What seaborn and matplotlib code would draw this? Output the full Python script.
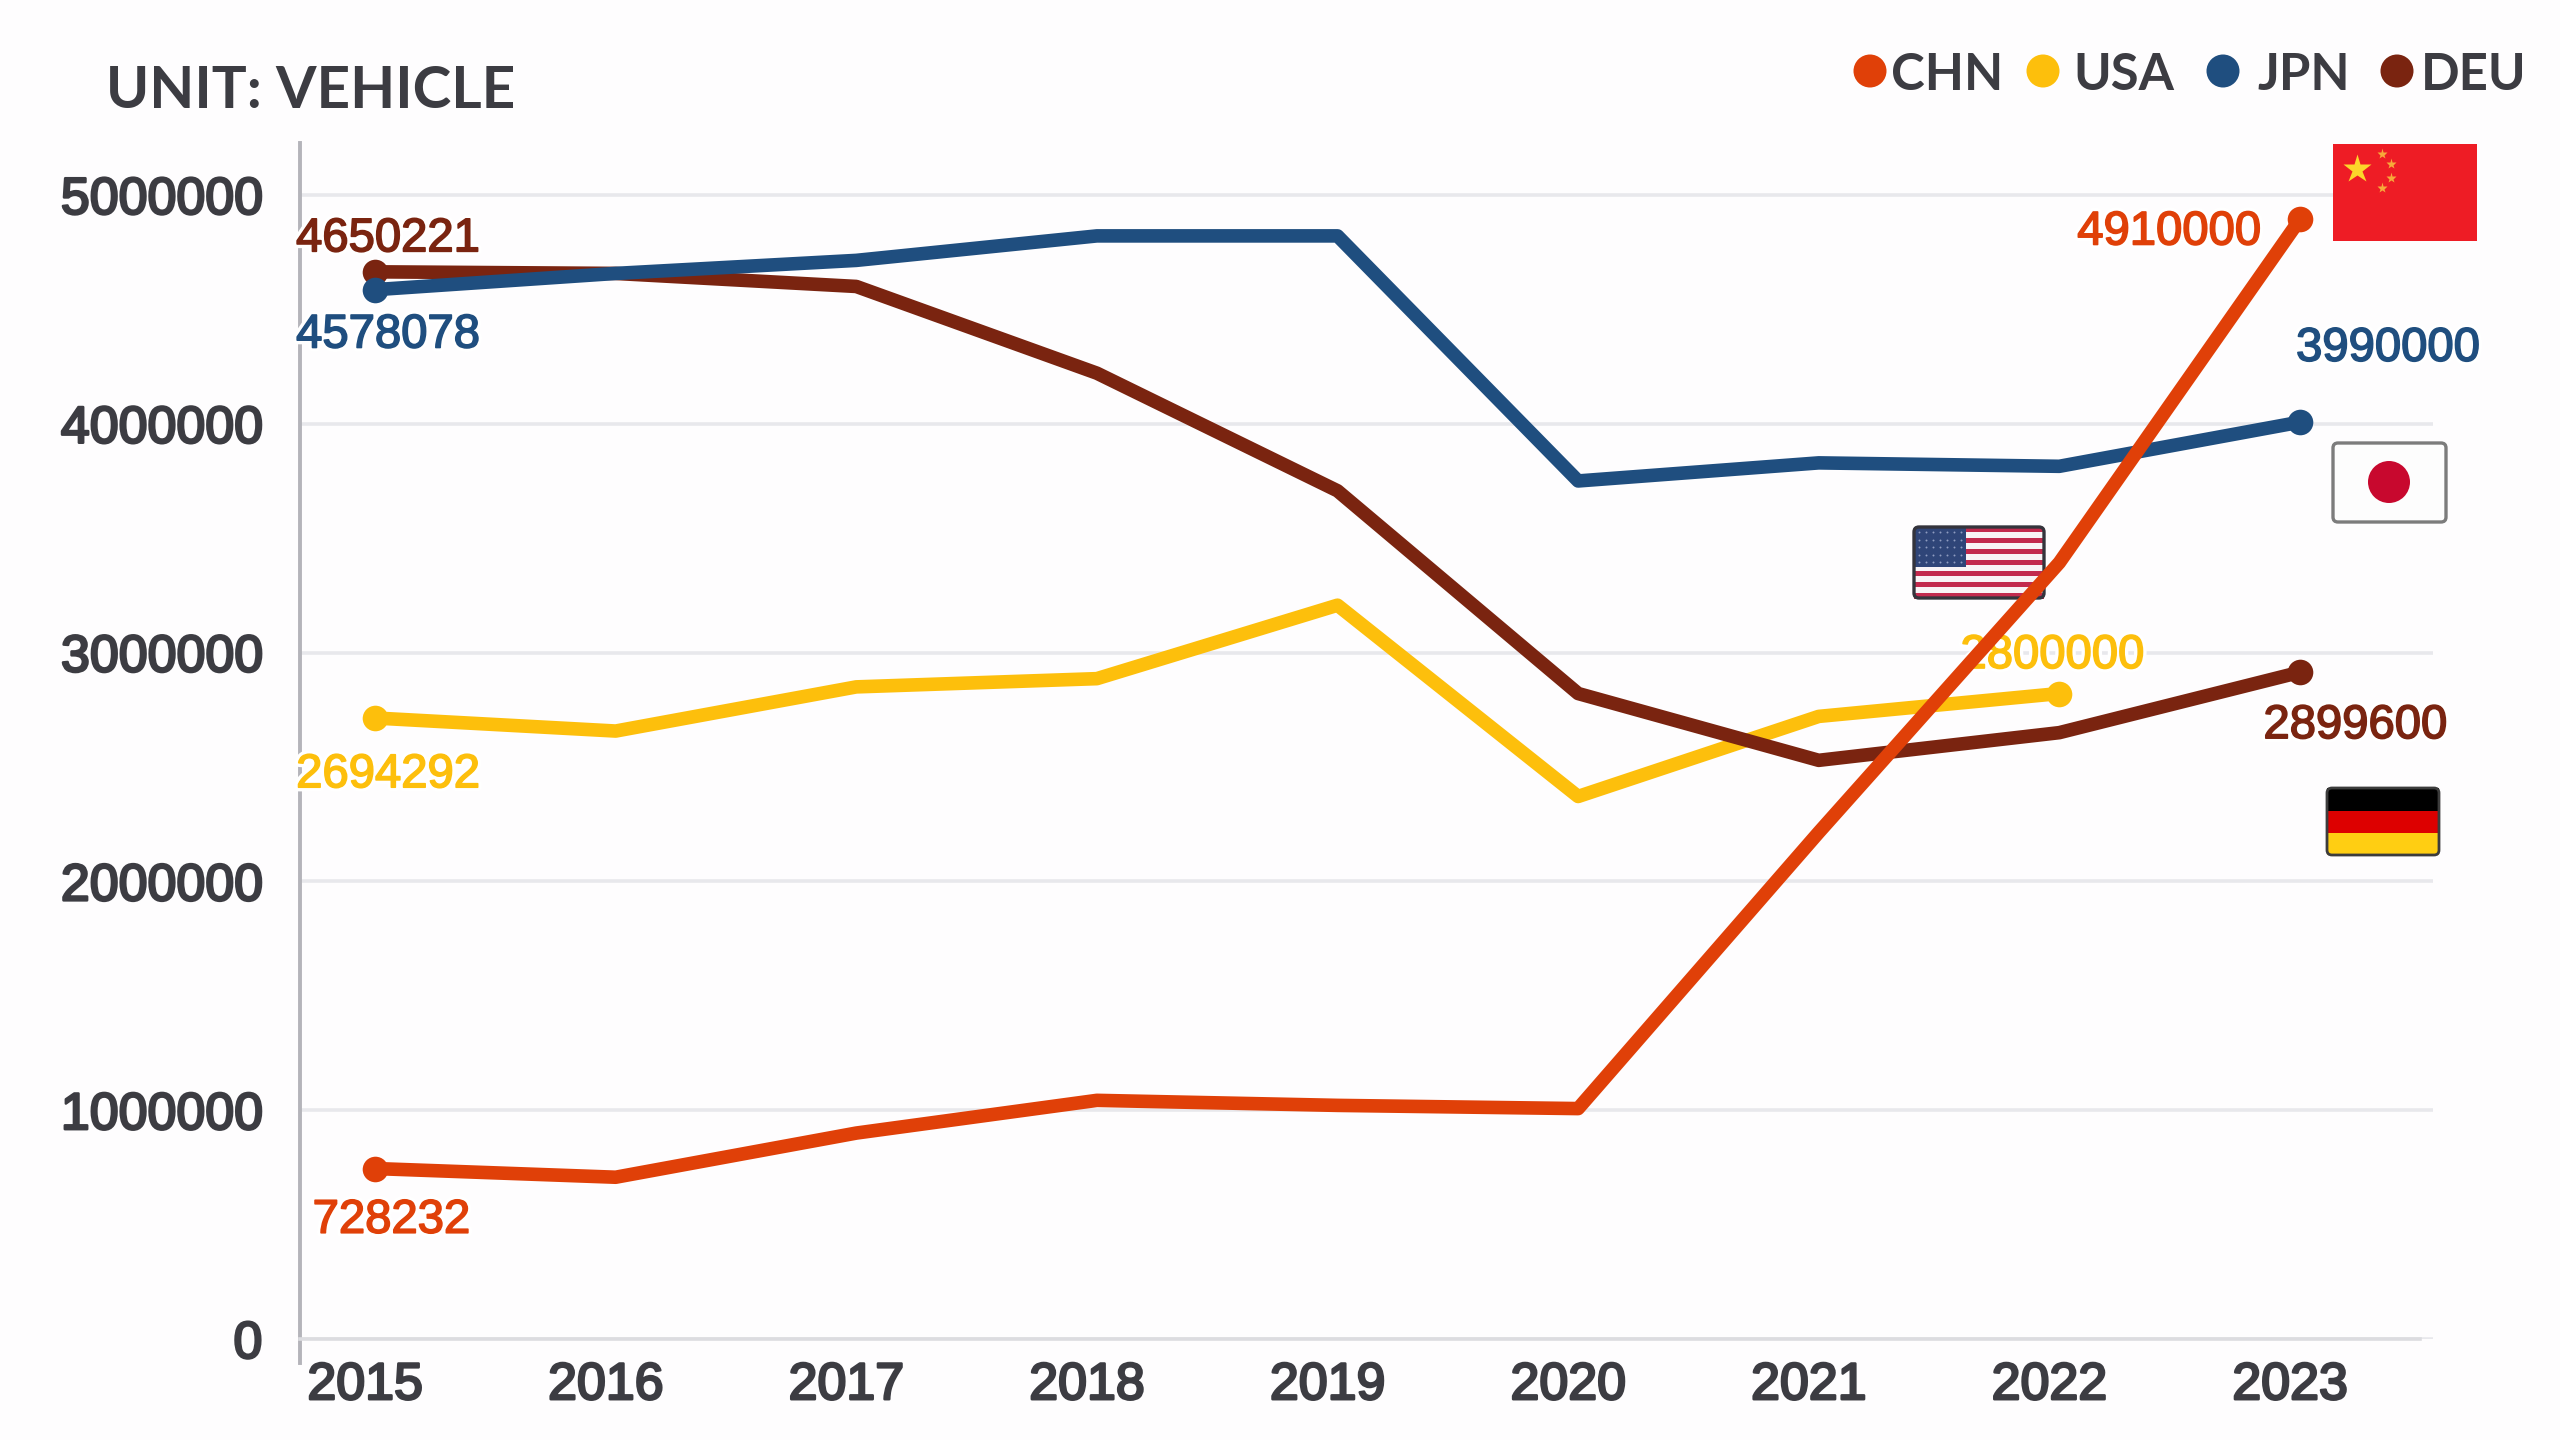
"""Vehicle exports by country, 2015-2023: line chart with flags and end labels."""

import matplotlib.patheffects as pe
import matplotlib.pyplot as plt
import pandas as pd
import seaborn as sns
from matplotlib.patches import Circle, FancyBboxPatch, Rectangle
from matplotlib.transforms import Affine2D, ScaledTranslation

years = [2015, 2016, 2017, 2018, 2019, 2020, 2021, 2022, 2023]
chn = [745000, 707000, 900000, 1043000, 1021000, 1007000, 2214000, 3393000, 4893000]
usa = [2714000, 2657000, 2850000, 2886000, 3207000, 2371000, 2721000, 2821000]
jpn = [4586000, 4657000, 4714000, 4821000, 4821000, 3750000, 3829000, 3814000, 4007000]
deu = [4664000, 4657000, 4600000, 4221000, 3707000, 2821000, 2529000, 2650000, 2914000]

y_ticks = [0, 1000000, 2000000, 3000000, 4000000, 5000000]
start_text = {"DEU": "4650221", "JPN": "4578078", "USA": "2694292", "CHN": "728232"}
end_text = {"CHN": "4910000", "JPN": "3990000", "USA": "2800000", "DEU": "2899600"}

colors = {"CHN": "#e04008", "USA": "#fdbf0c", "JPN": "#1f4e7f", "DEU": "#7a2410"}
draw_order = ["USA", "DEU", "JPN", "CHN"]
INK = "#3c3c42"
GRID = "#e8e8ec"

# label offsets in points from the line's end marker
start_offset = {"DEU": (4.7, 11.7), "JPN": (4.7, -16.5), "USA": (4.7, -20.6), "CHN": (5.9, -18.8)}
end_offset = {"CHN": (-47, -4.7), "JPN": (31.8, 26.4), "USA": (-2.4, 13.5), "DEU": (20, -19.4)}

# legend: marker centre and text start, in pixels
legend_x = {"CHN": (1870, 1891), "USA": (2043, 2073), "JPN": (2223, 2257), "DEU": (2397, 2421)}

sns.set_theme(style="whitegrid")
plt.rcParams["font.family"] = ["Liberation Sans", "DejaVu Sans"]

fig = plt.figure(figsize=(12.8, 7.2), dpi=200, facecolor="#fefdfe")
ax = fig.add_axes([300 / 2560, 1 - 1339 / 1440, (2433 - 300) / 2560, (1339 - 143) / 1440])
ax.set_facecolor("none")

# everything that is not data is placed in image pixels, origin top left
px = Affine2D().scale(1, -1).translate(0, 1440)

df = pd.concat(
    pd.DataFrame({"year": years[: len(vals)], "value": vals, "country": name})
    for name, vals in [("CHN", chn), ("USA", usa), ("JPN", jpn), ("DEU", deu)]
)

sns.lineplot(
    data=df, x="year", y="value", hue="country", hue_order=draw_order, palette=colors,
    linewidth=4.9, errorbar=None, legend=False, zorder=2, ax=ax,
    solid_joinstyle="round", solid_capstyle="round",
)

ends = df.groupby("country").agg(
    x0=("year", "first"), y0=("value", "first"), x1=("year", "last"), y1=("value", "last")
)
for name in draw_order:
    row = ends.loc[name]
    sns.scatterplot(
        x=[row.x0, row.x1], y=[row.y0, row.y1], color=colors[name], s=85,
        linewidth=0, legend=False, zorder=2.1, ax=ax,
    )
    for xy, text, off in [
        ((row.x0, row.y0), start_text[name], start_offset[name]),
        ((row.x1, row.y1), end_text[name], end_offset[name]),
    ]:
        # the USA end label sits under the lines, the orange one crosses it
        ax.annotate(
            text, xy=xy, xytext=off, textcoords="offset points", ha="center", va="center",
            color=colors[name], fontsize=17, annotation_clip=False,
            zorder=1.8 if text == end_text["USA"] else 3,
            path_effects=[
                pe.withStroke(linewidth=3, foreground="white"),
                pe.withStroke(linewidth=0.6, foreground=colors[name]),
            ],
        )

ax.set_xlim(2014.688, 2023.553)
ax.set_ylim(0, 5227000)
ax.set_xticks(years)
ax.set_yticks(y_ticks)
ax.set_yticklabels([str(v) for v in y_ticks])
ax.set_xlabel("")
ax.set_ylabel("")
ax.grid(False, axis="x")
ax.grid(True, axis="y", color=GRID, linewidth=1.3, zorder=1)
ax.set_axisbelow(True)
ax.tick_params(axis="y", length=10.4, width=1.3, color=GRID, pad=3.2, labelsize=18.7, labelcolor=INK)
ax.tick_params(axis="x", length=0, pad=8, labelsize=18.7, labelcolor=INK)
shift = ScaledTranslation(-10 / 200, 0, fig.dpi_scale_trans)
for label in ax.get_xticklabels():
    label.set_transform(label.get_transform() + shift)
# regular weight plus a thin outline reads as the semibold of the original
for label in ax.get_xticklabels() + ax.get_yticklabels():
    label.set_path_effects([pe.withStroke(linewidth=0.9, foreground=INK)])

for side in ["top", "right"]:
    ax.spines[side].set_visible(False)
ax.spines["bottom"].set_color("#dcdce0")
ax.spines["bottom"].set_linewidth(1.3)
ax.spines["bottom"].set_bounds(2014.688, 2023.5)
ax.spines["left"].set_color("#b4b4ba")
ax.spines["left"].set_linewidth(1.4)
ax.spines["left"].set_bounds(-105000, 5227000)

# title and hand-placed legend
ax.text(106, 91, "UNIT: VEHICLE", transform=px, family="Lato", fontweight="bold", fontsize=21,
        color=INK, va="center", clip_on=False)
for name, (mark_x, text_x) in legend_x.items():
    ax.add_patch(Circle((mark_x, 71), 16.5, color=colors[name], lw=0, transform=px, clip_on=False))
    ax.text(text_x, 76, name, transform=px, family="Lato", fontweight="bold", fontsize=18.3,
            color=INK, va="center", clip_on=False)


def box(x0, y0, x1, y1, color, z=1.5):
    ax.add_patch(Rectangle((x0, y0), x1 - x0, y1 - y0, facecolor=color, lw=0, transform=px,
                           clip_on=False, zorder=z))


def frame(x0, y0, x1, y1, color, lw):
    ax.add_patch(FancyBboxPatch((x0, y0), x1 - x0, y1 - y0, boxstyle="round,pad=0,rounding_size=5",
                                facecolor="none", edgecolor=color, lw=lw, transform=px,
                                clip_on=False, zorder=1.6))


def star(x, y, size, color="#fcd62a"):
    ax.plot(x, y, marker="*", ms=size, mfc=color, mec="none", transform=px, clip_on=False, zorder=1.6)


# China
box(2333, 144, 2477, 241, "#ee1c25")
star(2357, 169, 10.5)
for sx, sy in [(2382, 154), (2391, 164), (2391, 178), (2382, 188)]:
    star(sx, sy, 4, "#f7a93a")

# Japan
box(2333, 443, 2446, 522, "#fdfdfd")
ax.add_patch(Circle((2389, 482), 21, color="#c8082e", lw=0, transform=px, clip_on=False, zorder=1.6))
frame(2333, 443, 2446, 522, "#7c7c7c", 1.2)

# USA
for i in range(13):
    y0 = 527 + i * (598 - 527) / 13
    box(1914, y0, 2044, y0 + (598 - 527) / 13 + 0.5, "#c22a4e" if i % 2 == 0 else "#f8f4f6")
box(1914, 527, 1966, 567, "#2f4578")
for row_i in range(5):
    for col in range(7):
        ax.plot(1919 + col * 7, 532 + row_i * 7.5, marker="o", ms=0.7, mfc="#8f9cc0", mec="none",
                transform=px, clip_on=False, zorder=1.6)
frame(1914, 527, 2044, 598, "#34343c", 1.2)

# Germany
box(2327, 788, 2439, 811, "#000000")
box(2327, 811, 2439, 833, "#dd0000")
box(2327, 833, 2439, 855, "#ffce12")
frame(2327, 788, 2439, 855, "#3c3c3c", 1.0)

fig.savefig("out.png", dpi=200, facecolor=fig.get_facecolor())
